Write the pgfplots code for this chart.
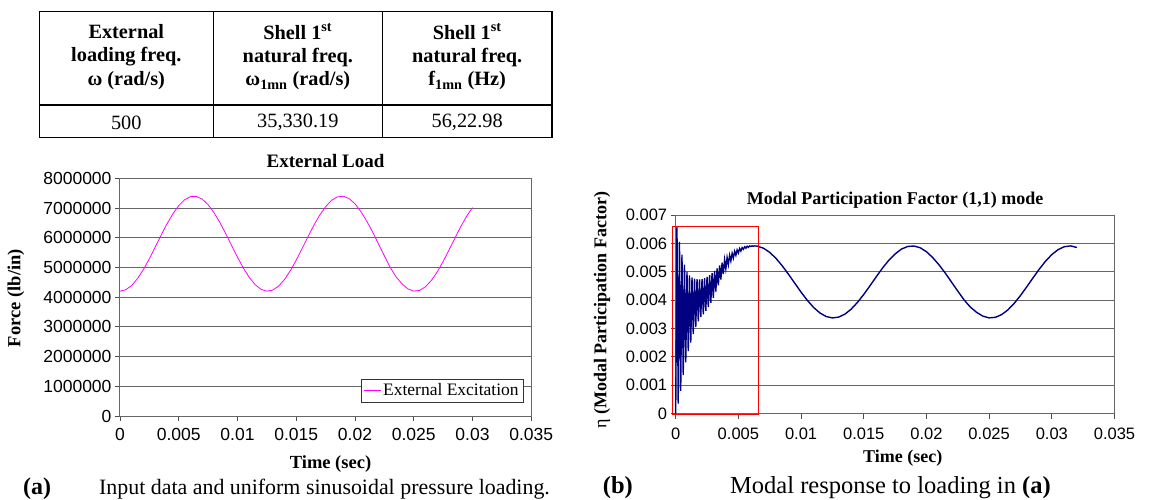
\documentclass[border=0pt]{standalone}
\usepackage{fontspec}
\setmainfont{Liberation Serif}
\newfontfamily\arial{Liberation Sans}
\usepackage{pgfplots}
\pgfplotsset{compat=1.18}
\definecolor{excite}{RGB}{255,0,255}
\definecolor{navyblue}{RGB}{0,0,128}
\begin{document}
\begin{tikzpicture}
\path[use as bounding box] (0pt,0pt) rectangle (1156pt,-500pt);
% ---------- table ----------
\begin{scope}[line width=1.3pt]
\draw (39.3pt,-11.7pt) rectangle (552pt,-137.3pt);
\draw (39.3pt,-105pt) -- (552pt,-105pt);
\draw (213.2pt,-11.7pt) -- (213.2pt,-137.3pt);
\draw (382.4pt,-11.7pt) -- (382.4pt,-137.3pt);
\end{scope}
\node[align=center, font=\fontsize{20.3}{23.3}\selectfont\bfseries] at (126.3pt,-57pt) {External\\loading freq.\\ω (rad/s)};
\node[align=center, font=\fontsize{20.3}{23.3}\selectfont\bfseries] at (297.8pt,-57pt) {Shell 1\textsuperscript{st}\\natural freq.\\ω\textsubscript{1mn} (rad/s)};
\node[align=center, font=\fontsize{20.3}{23.3}\selectfont\bfseries] at (467.2pt,-57pt) {Shell 1\textsuperscript{st}\\natural freq.\\f\textsubscript{1mn} (Hz)};
\node[font=\fontsize{20.3}{23}\selectfont] at (126.3pt,-122.5pt) {500};
\node[font=\fontsize{20.3}{23}\selectfont] at (297.8pt,-122.5pt) {35,330.19};
\node[font=\fontsize{20.3}{23}\selectfont] at (467.2pt,-122.5pt) {56,22.98};
% ---------- chart (a) ----------
\begin{axis}[
  at={(120pt,-416pt)}, anchor=south west, scale only axis,
  width=411.2pt, height=237.7pt,
  xmin=0, xmax=0.035, ymin=0, ymax=8000000,
  scaled x ticks=false, scaled y ticks=false,
  xtick={0,0.005,0.01,0.015,0.02,0.025,0.03,0.035},
  xticklabels={0,0.005,0.01,0.015,0.02,0.025,0.03,0.035},
  ytick={0,1000000,2000000,3000000,4000000,5000000,6000000,7000000,8000000},
  yticklabels={0,1000000,2000000,3000000,4000000,5000000,6000000,7000000,8000000},
  ymajorgrids, grid style={black!60, line width=1pt},
  axis line style={black!60, line width=1pt},
  tick style={black!70, line width=0.8pt}, tick align=outside, tick pos=left,
  major tick length=5pt,
  ticklabel style={font=\arial\fontsize{17.5}{17.5}\selectfont},
  xticklabel style={yshift=-4pt},
  title={External Load},
  title style={at={(axis description cs:0.5,1)}, anchor=base, yshift=5pt, font=\fontsize{19}{19}\selectfont\bfseries},
  xlabel={Time (sec)},
  xlabel style={at={(axis description cs:0.512,0)}, anchor=base, yshift=-52pt, font=\fontsize{18.5}{18.5}\selectfont\bfseries},
  ylabel={Force (lb/in)},
  ylabel style={at={(axis description cs:-0.253,0.496)}, anchor=center, rotate=0, font=\fontsize{18.5}{18.5}\selectfont\bfseries},
  legend style={at={(0.981,0.059)}, anchor=south east, draw=black!80, font=\fontsize{17.5}{17.5}\selectfont, inner sep=2.5pt},
  legend cell align=left,
]
\addplot[color=excite, line width=0.8pt, no marks] coordinates {
(0,4200000) (0.0005,4249700) (0.001,4395900) (0.0015,4629300) (0.002,4935500)
(0.0025,5295500) (0.003,5686800) (0.0035,6085200) (0.004,6465800) (0.0045,6805100)
(0.005,7081800) (0.0055,7278900) (0.006,7384000) (0.0065,7390600) (0.007,7298300)
(0.0075,7112900) (0.008,6845800) (0.0085,6513600) (0.009,6137300) (0.0095,5739800)
(0.01,5346100) (0.0105,4980700) (0.011,4666100) (0.0115,4422100) (0.012,4263700)
(0.0125,4201100) (0.013,4237500) (0.0135,4371200) (0.014,4593800) (0.0145,4891400)
(0.015,5245400) (0.0155,5632800) (0.016,6032800) (0.0165,6419900) (0.017,6763200)
(0.0175,7042700) (0.018,7257800) (0.0185,7374200) (0.019,7395500) (0.0195,7319100)
(0.02,7142500) (0.0205,6880900) (0.021,6560900) (0.0215,6194200) (0.022,5792900)
(0.0225,5390900) (0.023,5002700) (0.0235,4681300) (0.024,4449800) (0.0245,4279200)
(0.025,4203500) (0.0255,4227000) (0.026,4348300) (0.0265,4560000) (0.027,4849600)
(0.0275,5196800) (0.028,5581300) (0.0285,5980800) (0.029,6368000) (0.0295,6721600)
(0.03,7015500)
};
\addlegendentry{External Excitation}
\end{axis}
% ---------- chart (b) ----------
\begin{axis}[
  at={(675.7pt,-413.5pt)}, anchor=south west, scale only axis,
  width=438.8pt, height=198.5pt,
  xmin=0, xmax=0.035, ymin=0, ymax=0.007,
  clip=false,
  scaled x ticks=false, scaled y ticks=false,
  xtick={0,0.005,0.01,0.015,0.02,0.025,0.03,0.035},
  xticklabels={0,0.005,0.01,0.015,0.02,0.025,0.03,0.035},
  ytick={0,0.001,0.002,0.003,0.004,0.005,0.006,0.007},
  yticklabels={0,0.001,0.002,0.003,0.004,0.005,0.006,0.007},
  ymajorgrids, grid style={black!60, line width=1pt},
  axis line style={black!60, line width=1pt},
  tick style={black!70, line width=0.8pt}, tick align=outside, tick pos=left,
  major tick length=5pt,
  ticklabel style={font=\arial\fontsize{16.5}{16.5}\selectfont},
  xticklabel style={yshift=-6pt},
  title={Modal Participation Factor (1,1) mode},
  title style={at={(axis description cs:0.5,1)}, anchor=base, yshift=4.5pt, font=\fontsize{18}{18}\selectfont\bfseries},
  xlabel={Time (sec)},
  xlabel style={at={(axis description cs:0.5175,0)}, anchor=base, yshift=-49pt, font=\fontsize{18}{18}\selectfont\bfseries},
  ylabel={{\normalfont η} (Modal Participation Factor)},
  ylabel style={at={(axis description cs:-0.168,0.521)}, anchor=center, rotate=0, font=\fontsize{18}{18}\selectfont\bfseries},
]
\addplot[color=navyblue, line width=1.4pt, no marks] coordinates {
(0,0) (0.0001,0.0066) (0.0002,0.00035) (0.0003,0.00605) (0.0004,0.0008) (0.0005,0.0056)
(0.0006,0.00135) (0.0007,0.00525) (0.0008,0.0018) (0.0009,0.005) (0.001,0.0022)
(0.0011,0.00487) (0.0012,0.0025) (0.0013,0.0048) (0.0014,0.0028) (0.0015,0.00476)
(0.0016,0.00305) (0.0017,0.00474) (0.0018,0.00325) (0.0019,0.00473) (0.002,0.0034)
(0.0021,0.00474) (0.0022,0.0035) (0.0023,0.00477) (0.0024,0.00362) (0.0025,0.00482)
(0.0026,0.00375) (0.0027,0.00488) (0.0028,0.0039) (0.0029,0.00495) (0.003,0.00408)
(0.0031,0.00503) (0.0032,0.0043) (0.0033,0.00512) (0.0034,0.00452) (0.0035,0.00522)
(0.0036,0.00472) (0.0037,0.00532) (0.0038,0.00492) (0.0039,0.00542) (0.004,0.0051)
(0.0041,0.0055) (0.0042,0.00525) (0.0043,0.00558) (0.0044,0.00538) (0.0045,0.00565)
(0.0046,0.00548) (0.0047,0.00572) (0.0048,0.00558) (0.0049,0.00577) (0.005,0.00566)
(0.0051,0.00582) (0.0052,0.00573) (0.0053,0.00585) (0.0054,0.00579) (0.0055,0.00588)
(0.0056,0.00583) (0.0057,0.0059) (0.0058,0.00586) (0.0059,0.00591) (0.006,0.00589)
(0.0061,0.00591) (0.0062,0.0059) (0.0063,0.00591)
(0.0065,0.0059026) (0.007,0.0058293) (0.0075,0.0056821) (0.008,0.0054701) (0.0085,0.0052064)
(0.009,0.0049077) (0.0095,0.0045923) (0.01,0.0042798) (0.0105,0.0039897) (0.011,0.00374)
(0.0115,0.0035463) (0.012,0.0034206) (0.0125,0.0033709) (0.013,0.0033997) (0.0135,0.0035059)
(0.014,0.0036826) (0.0145,0.0039188) (0.015,0.0041998) (0.0155,0.0045073) (0.016,0.0048248)
(0.0165,0.0051321) (0.017,0.0054046) (0.0175,0.0056264) (0.018,0.0057971) (0.0185,0.0058896)
(0.019,0.0059064) (0.0195,0.0058458) (0.02,0.0057056) (0.0205,0.005498) (0.021,0.0052439)
(0.0215,0.0049529) (0.022,0.0046344) (0.0225,0.0043153) (0.023,0.0040071) (0.0235,0.003752)
(0.024,0.0035683) (0.0245,0.0034329) (0.025,0.0033728) (0.0255,0.0033915) (0.026,0.0034875)
(0.0265,0.0036558) (0.027,0.0038856) (0.0275,0.0041612) (0.028,0.0044663) (0.0285,0.0047835)
(0.029,0.0050909) (0.0295,0.0053715) (0.03,0.0056048) (0.0305,0.0057796) (0.031,0.0058827)
(0.0315,0.0059091) (0.032,0.0058563)
};
\addplot[red, line width=0.9pt, no marks] coordinates {
(-0.00027,-0.00002) (0.00659,-0.00002) (0.00659,0.00659) (-0.00027,0.00659) (-0.00027,-0.00002)
};
\end{axis}
% ---------- captions ----------
\node[anchor=base west, inner sep=0pt, font=\fontsize{24}{24}\selectfont\bfseries] at (23pt,-494pt) {(a)};
\node[anchor=base west, inner sep=0pt, font=\fontsize{21.9}{21.9}\selectfont] at (99pt,-494pt) {Input data and uniform sinusoidal pressure loading.};
\node[anchor=base west, inner sep=0pt, font=\fontsize{24.5}{24.5}\selectfont\bfseries] at (602.7pt,-493.3pt) {(b)};
\node[anchor=base west, inner sep=0pt, font=\fontsize{24.5}{24.5}\selectfont] at (730pt,-493.3pt) {Modal response to loading in \textbf{(a)}};
\end{tikzpicture}
\end{document}
